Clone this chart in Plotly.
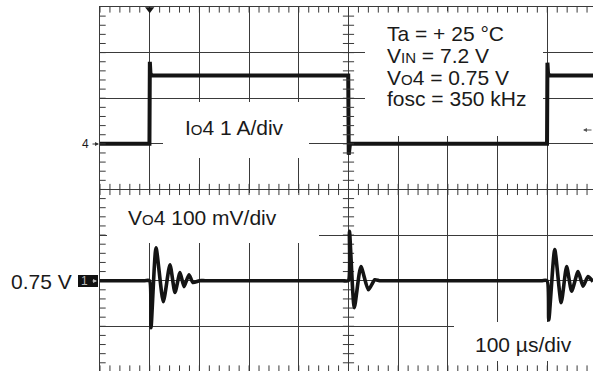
import numpy as np
import plotly.graph_objects as go

# ---------------- data ----------------
# time axis in microseconds (100 us/div)
current_t = [0, 99.5, 100.3, 101.5, 104, 499.5, 500.5, 503, 899.5, 900.3, 901.5, 904, 992]
current_a = [0, 0, 1.80, 1.55, 1.50, 1.50, -0.24, 0, 0, 1.78, 1.55, 1.50, 1.50]

volt_t = [0, 90, 99.5, 102.6, 112.7, 127.4, 140.8, 150.9, 161, 169, 179, 187, 200, 212,
          488, 499.5, 502, 511.7, 525, 540, 553, 562, 575,
          888, 899.5, 903, 915, 928, 939, 949, 962, 972, 982, 992]
volt_v = [0.75, 0.75, 0.75, 0.647, 0.822, 0.704, 0.785, 0.724, 0.768, 0.737, 0.763, 0.746, 0.75, 0.75,
          0.75, 0.75, 0.858, 0.691, 0.781, 0.730, 0.752, 0.75, 0.75,
          0.75, 0.75, 0.664, 0.818, 0.702, 0.781, 0.727, 0.770, 0.738, 0.759, 0.748]

trigger_t = [100]
center_t = 500          # centre graticule (time)
center_a = -1           # centre graticule (current axis units)

X_RANGE = [0, 992]      # us
I_RANGE = [-4.98, 3]    # A, 1 A/div
V_RANGE = [0.552, 1.35] # V, 100 mV/div
X_MINOR = 20
Y_MINOR = 0.2

# ---------------- layout geometry ----------------
W, H = 593, 371
L, T = 100, 7
PW, PH = W - L, H - T
INK = "#141414"
GRID = "#3a3a3a"
FONT = "Liberation Sans, Arial, sans-serif"


def px(x):
    return (x - L) / PW


def py(y):
    return (H - y) / PH


def dx(x):
    return X_RANGE[0] + px(x) * (X_RANGE[1] - X_RANGE[0])


def dy(y):
    return I_RANGE[0] + py(y) * (I_RANGE[1] - I_RANGE[0])


fig = go.Figure()

fig.add_trace(go.Scatter(x=current_t, y=current_a, mode="lines",
                         line=dict(color=INK, width=4), yaxis="y",
                         hoverinfo="skip", showlegend=False))
fig.add_trace(go.Scatter(x=volt_t, y=volt_v, mode="lines",
                         line=dict(color=INK, width=3.6, shape="spline", smoothing=0.6),
                         yaxis="y2", hoverinfo="skip", showlegend=False))

# graticule ticks: centre crosses and border ticks
tx = np.arange(X_RANGE[0], X_RANGE[1], X_MINOR)
ty = np.arange(-4.8, 3.0, Y_MINOR)
tick_marker_v = dict(symbol="line-ns", size=8, line=dict(color=GRID, width=1))
tick_marker_h = dict(symbol="line-ew", size=8, line=dict(color=GRID, width=1))
tick_marker_h_short = dict(symbol="line-ew", size=5, line=dict(color=GRID, width=1))
for xs, ys, mk in [(tx, [center_a] * len(tx), tick_marker_v),
                   (tx, [I_RANGE[1]] * len(tx), tick_marker_v),
                   (tx, [I_RANGE[0]] * len(tx), tick_marker_v),
                   ([center_t] * len(ty), ty, tick_marker_h),
                   ([dx(L + 2.2)] * len(ty), ty, tick_marker_h_short)]:
    fig.add_trace(go.Scatter(x=xs, y=ys, mode="markers", marker=mk,
                             hoverinfo="skip", showlegend=False))

# trigger marker
fig.add_trace(go.Scatter(x=trigger_t, y=[2.95], mode="markers",
                         marker=dict(symbol="triangle-down", size=8, color=INK),
                         cliponaxis=False, hoverinfo="skip", showlegend=False))

# white label boxes hiding the graticule (between grid and traces)
boxes = [(365, 11, 543, 136), (163, 102, 309, 158), (107, 193, 319, 243), (454, 322, 600, 361)]
shapes = []
for x0, y0, x1, y1 in boxes:
    shapes.append(dict(type="rect", xref="x", yref="y",
                       x0=dx(x0), x1=dx(x1), y0=dy(y1), y1=dy(y0),
                       fillcolor="white", line=dict(width=0), layer="between"))
# channel 1 marker box
shapes.append(dict(type="rect", xref="paper", yref="paper",
                   x0=px(78), x1=px(98), y0=py(287), y1=py(275),
                   fillcolor="#111111", line=dict(width=0), layer="above"))

SM = "<span style='font-size:15px'>"
anns = []


def txt(s, x, y, size=21, color="#1a1a1a", xanchor="left"):
    anns.append(dict(text=s, x=px(x), y=py(y), xref="paper", yref="paper",
                     xanchor=xanchor, yanchor="middle", showarrow=False,
                     font=dict(family=FONT, size=size, color=color)))


txt("Ta = + 25 °C", 385, 34)
txt("V" + SM + "IN</span> = 7.2 V", 385, 56)
txt("V" + SM + "O</span>4 = 0.75 V", 385, 77.5)
txt("fosc = 350 kHz", 385, 98.5)
txt("I" + SM + "O</span>4 1 A/div", 183, 127)
txt("V" + SM + "O</span>4 100 mV/div", 126, 218)
txt("100 µs/div", 473, 344)
txt("0.75 V", 9, 281)
txt("4", 85, 144, size=12, xanchor="center")
txt("1", 84, 281, size=12, color="#bbbbbb", xanchor="center")


def arrow(x, y, ax, color):
    anns.append(dict(text="", x=px(x), y=py(y), xref="paper", yref="paper",
                     ax=ax, ay=0, showarrow=True, arrowhead=2, arrowsize=0.8,
                     arrowwidth=1, arrowcolor=color))


arrow(99, 144, -8, "#333333")
arrow(97, 281, -6, "#bbbbbb")
arrow(583, 130, 10, "#555555")

axis_common = dict(showticklabels=False, ticks="", showline=True, linecolor=GRID,
                   linewidth=1, mirror=True, showgrid=True, gridcolor=GRID,
                   gridwidth=1, zeroline=False, fixedrange=True)

fig.update_layout(
    width=W, height=H,
    margin=dict(l=L, r=0, t=T, b=0),
    paper_bgcolor="white", plot_bgcolor="white",
    showlegend=False,
    xaxis=dict(range=X_RANGE, dtick=100, tick0=0, **axis_common),
    yaxis=dict(range=I_RANGE, dtick=1, tick0=0, **axis_common),
    yaxis2=dict(range=V_RANGE, overlaying="y", visible=False, fixedrange=True),
    shapes=shapes,
    annotations=anns,
)

fig.write_html("out.html", config={"displayModeBar": False},
               post_script="document.body.style.margin='0';")
